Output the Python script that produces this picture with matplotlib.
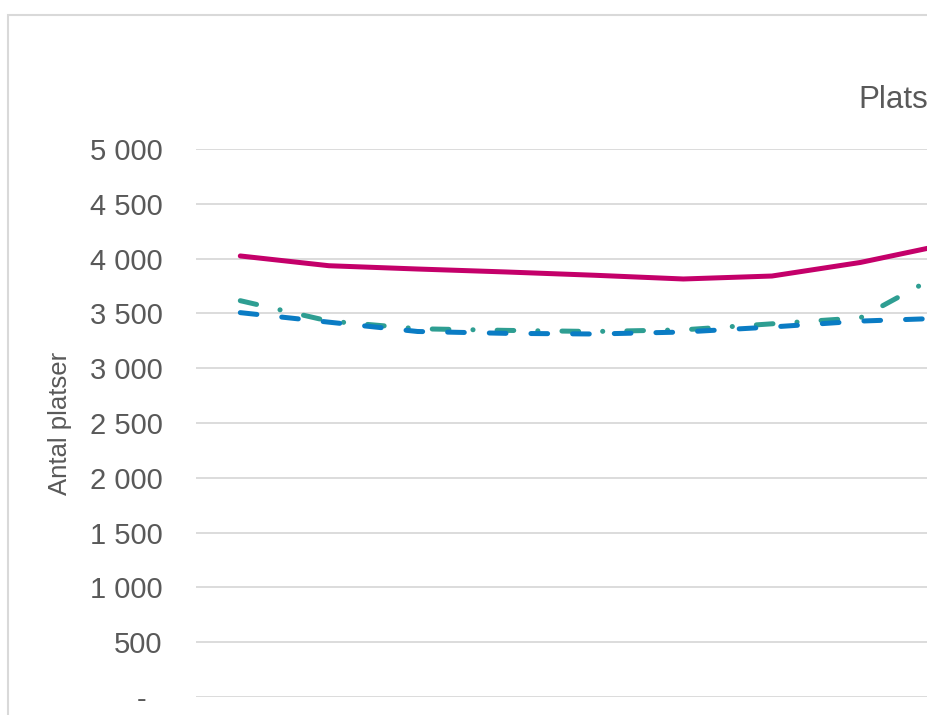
import matplotlib
matplotlib.use("Agg")
import matplotlib.pyplot as plt
from matplotlib.patches import Rectangle

plt.rcParams['font.family'] = ['Liberation Sans', 'DejaVu Sans']
plt.rcParams['lines.scale_dashes'] = False

# Data (categories beyond the visible crop are not shown)
categories = ["1", "2", "3", "4", "5", "6", "7", "8", "9"]
series_red = [4024, 3935, 3905, 3878, 3848, 3814, 3841, 3965, 4135]
series_teal = [3616, 3430, 3360, 3345, 3335, 3350, 3405, 3460, 3900]
series_blue = [3507, 3420, 3335, 3318, 3312, 3330, 3376, 3430, 3458]
yticks = [0, 500, 1000, 1500, 2000, 2500, 3000, 3500, 4000, 4500, 5000]
ytick_labels = ["-  ", "500", "1 000", "1 500", "2 000", "2 500", "3 000",
                "3 500", "4 000", "4 500", "5 000"]

W, H = 927, 715
fig = plt.figure(figsize=(W / 100, H / 100), dpi=100)

# outer chart border (cropped at right/bottom)
fig.patches.append(Rectangle((8 / W, -0.2), 1.5, (H - 15) / H + 0.2,
                             transform=fig.transFigure, fill=False,
                             edgecolor='#d9d9d9', linewidth=1.5))

left = 196
right = left + 9 * 88.6
top, bottom = 149, 697
ax = fig.add_axes([left / W, (H - bottom) / H, (right - left) / W, (bottom - top) / H])

x = list(range(len(categories)))
ax.plot(x, series_red, color='#C4006A', linewidth=3.6, solid_capstyle='round', zorder=3)
lt, = ax.plot(x, series_teal, color='#2E9E92', linewidth=3.6,
              dash_capstyle='round', zorder=4)
lt.set_dashes([12, 17.3, 0.1, 17.3])
lb, = ax.plot(x, series_blue, color='#0A7CC4', linewidth=3.6,
              dash_capstyle='round', zorder=5)
lb.set_dashes([12, 18])

ax.set_xlim(-0.5, len(categories) - 0.5)
ax.set_ylim(0, 5000)
ax.set_yticks(yticks)
ax.set_yticklabels(ytick_labels)
ax.tick_params(axis='y', length=0, pad=24, labelsize=21, labelcolor='#595959')
ax.set_xticks([])
ax.grid(axis='y', color='#d9d9d9', linewidth=1.3)
ax.set_axisbelow(True)
for s in ax.spines.values():
    s.set_visible(False)

fig.text(60 / W, (H - 423) / H, "Antal platser", rotation=90, ha='center',
         va='center', fontsize=18.5, color='#595959')
fig.text(858 / W, (H - 108) / H, "Plats", ha='left', va='baseline',
         fontsize=22.5, color='#595959')

fig.savefig("out.png", dpi=100)
